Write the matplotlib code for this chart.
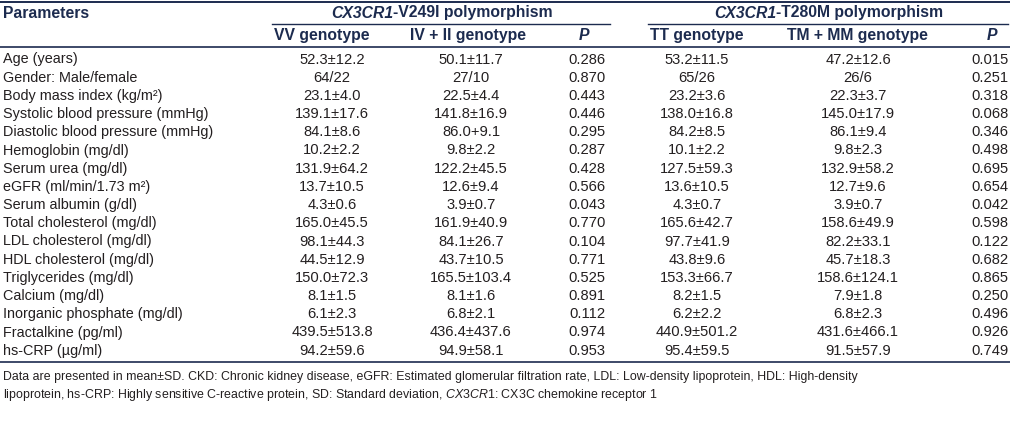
import matplotlib.pyplot as plt
from matplotlib import font_manager

# Table contents
parameters = [
    "Age (years)", "Gender: Male/female", "Body mass index (kg/m²)",
    "Systolic blood pressure (mmHg)", "Diastolic blood pressure (mmHg)",
    "Hemoglobin (mg/dl)", "Serum urea (mg/dl)", "eGFR (ml/min/1.73 m²)",
    "Serum albumin (g/dl)", "Total cholesterol (mg/dl)", "LDL cholesterol (mg/dl)",
    "HDL cholesterol (mg/dl)", "Triglycerides (mg/dl)", "Calcium (mg/dl)",
    "Inorganic phosphate (mg/dl)", "Fractalkine (pg/ml)", "hs-CRP (µg/ml)",
]
vv = ["52.3±12.2", "64/22", "23.1±4.0", "139.1±17.6", "84.1±8.6", "10.2±2.2",
      "131.9±64.2", "13.7±10.5", "4.3±0.6", "165.0±45.5", "98.1±44.3", "44.5±12.9",
      "150.0±72.3", "8.1±1.5", "6.1±2.3", "439.5±513.8", "94.2±59.6"]
iv_ii = ["50.1±11.7", "27/10", "22.5±4.4", "141.8±16.9", "86.0+9.1", "9.8±2.2",
         "122.2±45.5", "12.6±9.4", "3.9±0.7", "161.9±40.9", "84.1±26.7", "43.7±10.5",
         "165.5±103.4", "8.1±1.6", "6.8±2.1", "436.4±437.6", "94.9±58.1"]
p_v249i = ["0.286", "0.870", "0.443", "0.446", "0.295", "0.287", "0.428", "0.566",
           "0.043", "0.770", "0.104", "0.771", "0.525", "0.891", "0.112", "0.974", "0.953"]
tt = ["53.2±11.5", "65/26", "23.2±3.6", "138.0±16.8", "84.2±8.5", "10.1±2.2",
      "127.5±59.3", "13.6±10.5", "4.3±0.7", "165.6±42.7", "97.7±41.9", "43.8±9.6",
      "153.3±66.7", "8.2±1.5", "6.2±2.2", "440.9±501.2", "95.4±59.5"]
tm_mm = ["47.2±12.6", "26/6", "22.3±3.7", "145.0±17.9", "86.1±9.4", "9.8±2.3",
         "132.9±58.2", "12.7±9.6", "3.9±0.7", "158.6±49.9", "82.2±33.1", "45.7±18.3",
         "158.6±124.1", "7.9±1.8", "6.8±2.3", "431.6±466.1", "91.5±57.9"]
p_t280m = ["0.015", "0.251", "0.318", "0.068", "0.346", "0.498", "0.695", "0.654",
           "0.042", "0.598", "0.122", "0.682", "0.865", "0.250", "0.496", "0.926", "0.749"]

group_genes = ["V249I", "T280M"]
col_headers = ["VV genotype", "IV + II genotype", "P",
               "TT genotype", "TM + MM genotype", "P"]
footnote = [
    "Data are presented in mean±SD. CKD: Chronic kidney disease, eGFR: Estimated glomerular "
    "filtration rate, LDL: Low-density lipoprotein, HDL: High-density",
    "lipoprotein, hs-CRP: Highly sensitive C-reactive protein, SD: Standard deviation, "
    "$\\it{CX3CR1}$: CX3C chemokine receptor 1",
]

NAVY = "#1c2b4f"
BODY = "#231f20"
FONT = ["Liberation Sans", "DejaVu Sans"]
installed = {f.name for f in font_manager.fontManager.ttflist}
has_narrow = "Liberation Sans Narrow" in installed
NARROW = ["Liberation Sans Narrow"] + FONT if has_narrow else FONT

plt.rcParams['font.family'] = FONT
plt.rcParams['mathtext.fontset'] = 'custom'
plt.rcParams['mathtext.it'] = 'Liberation Sans:italic'
plt.rcParams['mathtext.rm'] = 'Liberation Sans'

fig = plt.figure(figsize=(10.10, 4.26), dpi=100)
ax = fig.add_axes([0, 0, 1, 1])
ax.set_xlim(0, 1010)
ax.set_ylim(426, 0)
ax.set_axis_off()
renderer = fig.canvas.get_renderer()

FS = 10.6      # body
HFS = 11.3     # header

# header
ax.plot([0, 1010], [1.5, 1.5], color=NAVY, lw=1.4)
ax.text(3, 13, "Parameters", fontsize=HFS, fontweight="bold", color=NAVY, va="center")

# group titles: bold italic gene name + bold rest, centred together
for cx, gene in zip([442, 829], group_genes):
    t1 = ax.text(0, 13, "CX3CR1", fontsize=HFS, fontweight="bold", style="italic",
                 color=NAVY, va="center", ha="left")
    t2 = ax.text(0, 13, "-" + gene + " polymorphism", fontsize=HFS, fontweight="bold",
                 color=NAVY, va="center", ha="left")
    w1 = t1.get_window_extent(renderer).width
    w2 = t2.get_window_extent(renderer).width
    left = cx - (w1 + w2) / 2
    t1.set_x(left)
    t2.set_x(left + w1)

ax.plot([272, 610], [24, 24], color=NAVY, lw=1.0)
ax.plot([648, 1008], [24, 24], color=NAVY, lw=1.0)

head_x = [322, 468, 584, 697, 857, 992]
for hx, lab in zip(head_x, col_headers):
    ax.text(hx, 35.5, lab, fontsize=HFS, fontweight="bold",
            style="italic" if lab == "P" else "normal",
            color=NAVY, va="center", ha="center")
ax.plot([0, 1010], [47, 47], color=NAVY, lw=1.2)

# body
col_x = [332, 471, 587, 697, 858, 990]
columns = [vv, iv_ii, p_v249i, tt, tm_mm, p_t280m]
y0, pitch = 59.5, 18.2
for i, name in enumerate(parameters):
    y = y0 + i * pitch
    ax.text(3, y, name, fontsize=FS - 0.2, color=BODY, va="center")
    for cx, col in zip(col_x, columns):
        ax.text(cx, y, col[i], fontsize=FS, color=BODY, va="center", ha="center")

y_end = y0 + (len(parameters) - 1) * pitch + 11
ax.plot([0, 1010], [y_end, y_end], color=NAVY, lw=1.2)

# footnote
for j, line in enumerate(footnote):
    ax.text(3, y_end + 15 + j * 18, line, fontsize=10.3 if has_narrow else 8.9,
            color=BODY, va="center", family=NARROW)

fig.savefig("out.png", dpi=100)
